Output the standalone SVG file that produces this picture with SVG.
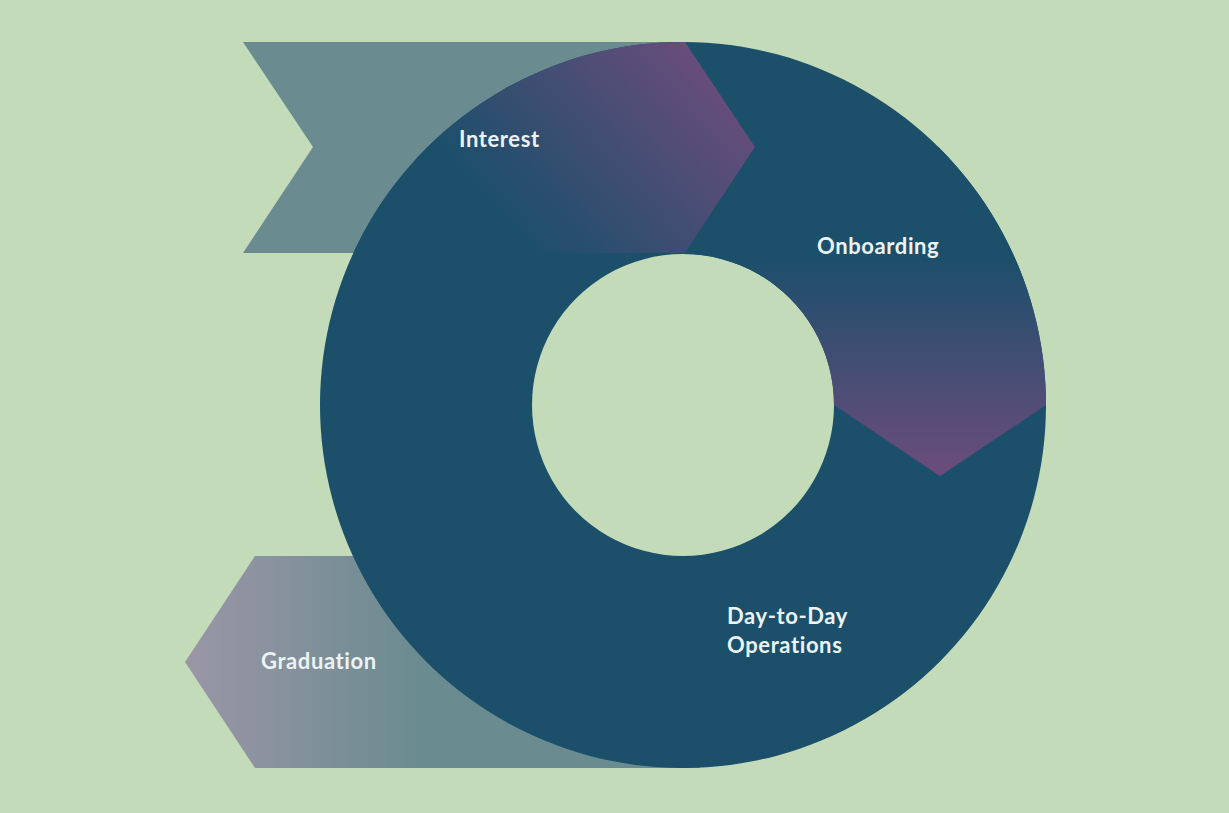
<svg xmlns="http://www.w3.org/2000/svg" width="1229" height="813" viewBox="0 0 1229 813">
  <defs>
    <style>
      .lbl { font-family: Lato, "Open Sans", "Liberation Sans", sans-serif; font-weight: 700; font-size: 22px; letter-spacing: 0.6px; font-variant-ligatures: none; fill: #ecf3f6; }
    </style>
    <clipPath id="ringClip">
      <path clip-rule="evenodd" d="M683,42 A363,363 0 1 1 682.99,42 Z M683,254 A151,151 0 1 0 683.01,254 Z"/>
    </clipPath>
    <linearGradient id="gInterest" gradientUnits="userSpaceOnUse" x1="520" y1="240" x2="720" y2="60">
      <stop offset="0" stop-color="#1b4f6a"/>
      <stop offset="1" stop-color="#6c4c7d"/>
    </linearGradient>
    <linearGradient id="gOnboard" gradientUnits="userSpaceOnUse" x1="0" y1="255" x2="0" y2="476">
      <stop offset="0" stop-color="#1b4f6a"/>
      <stop offset="1" stop-color="#6c4c7d"/>
    </linearGradient>
    <linearGradient id="gGrad" gradientUnits="userSpaceOnUse" x1="190" y1="0" x2="420" y2="0">
      <stop offset="0" stop-color="#9a96a6"/>
      <stop offset="1" stop-color="#6a8b8f"/>
    </linearGradient>
  </defs>
  <rect width="1229" height="813" fill="#c3dbb8"/>

  <g id="graduation">
    <polygon points="185,662 255,556 700,556 700,768 255,768" fill="url(#gGrad)"/>
  </g>
  <g id="interest-ribbon">
    <polygon points="243,42 685,42 755,147 685,253 243,253 313,147" fill="#6a8b8f"/>
  </g>
  <g id="ring">
    <path fill-rule="evenodd" fill="#1b4f6a" d="M683,42 A363,363 0 1 1 682.99,42 Z M683,254 A151,151 0 1 0 683.01,254 Z"/>
  </g>
  <g id="interest" clip-path="url(#ringClip)">
    <polygon points="243,42 685,42 755,147 685,253 243,253 313,147" fill="url(#gInterest)"/>
  </g>
  <g id="onboarding" clip-path="url(#ringClip)">
    <polygon points="685,253 755,147 1100,147 1100,369 940,476 640,275" fill="url(#gOnboard)"/>
  </g>
  <g id="labels">
    <text class="lbl" x="459" y="147">Interest</text>
    <text class="lbl" x="817" y="254">Onboarding</text>
    <text class="lbl" x="727" y="624">Day-to-Day</text>
    <text class="lbl" x="727" y="653">Operations</text>
    <text class="lbl" x="261" y="669">Graduation</text>
  </g>
</svg>
